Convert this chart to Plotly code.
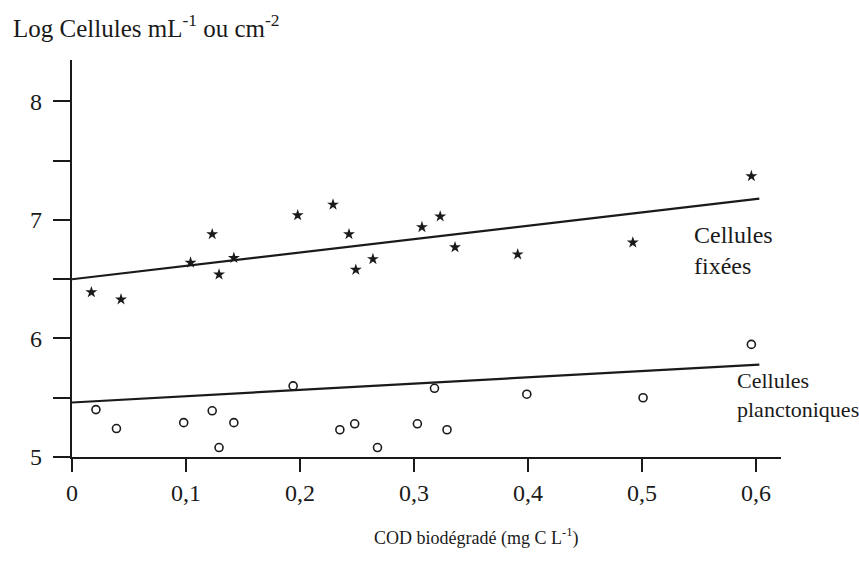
import plotly.graph_objects as go

# Data
fixees_x = [0.017, 0.043, 0.104, 0.123, 0.129, 0.142, 0.198, 0.229, 0.243, 0.249,
            0.264, 0.307, 0.323, 0.336, 0.391, 0.492, 0.596]
fixees_y = [6.39, 6.33, 6.64, 6.88, 6.54, 6.68, 7.04, 7.13, 6.88, 6.58,
            6.67, 6.94, 7.03, 6.77, 6.71, 6.81, 7.37]

plancto_x = [0.021, 0.039, 0.098, 0.123, 0.129, 0.142, 0.194, 0.235, 0.248,
             0.268, 0.303, 0.318, 0.329, 0.399, 0.501, 0.596]
plancto_y = [5.40, 5.24, 5.29, 5.39, 5.08, 5.29, 5.60, 5.23, 5.28,
             5.08, 5.28, 5.58, 5.23, 5.53, 5.50, 5.95]

fit_x = [0.0, 0.603]
fit_fixees_y = [6.50, 7.18]
fit_plancto_y = [5.46, 5.78]

xtick_vals = [0, 0.1, 0.2, 0.3, 0.4, 0.5, 0.6]
xtick_text = ["0", "0,1", "0,2", "0,3", "0,4", "0,5", "0,6"]
ytick_vals = [5, 6, 7, 8]
ytick_text = ["5", "6", "7", "8"]

FONT = "Liberation Serif"
INK = "#1a1a1a"

fig = go.Figure()

fig.add_trace(go.Scatter(x=fit_x, y=fit_fixees_y, mode="lines",
                         line=dict(color=INK, width=2.2), showlegend=False, hoverinfo="skip"))
fig.add_trace(go.Scatter(x=fit_x, y=fit_plancto_y, mode="lines",
                         line=dict(color=INK, width=2.2), showlegend=False, hoverinfo="skip"))
fig.add_trace(go.Scatter(x=fixees_x, y=fixees_y, mode="markers", name="Cellules fixées",
                         marker=dict(symbol="star", size=9, color=INK, line=dict(width=0)),
                         showlegend=False))
fig.add_trace(go.Scatter(x=plancto_x, y=plancto_y, mode="markers", name="Cellules planctoniques",
                         marker=dict(symbol="circle-open", size=8, color=INK, line=dict(width=1.6)),
                         showlegend=False))

fig.update_layout(
    width=859, height=574,
    margin=dict(l=72, r=78, t=60, b=117),
    paper_bgcolor="white", plot_bgcolor="white",
    font=dict(family=FONT, color=INK, size=24),
    title=dict(text="Log Cellules mL<sup>-1</sup> ou cm<sup>-2</sup>",
               x=13/859, xanchor="left", xref="container",
               y=1 - 28/574, yanchor="middle",
               font=dict(family=FONT, size=25, color=INK)),
    annotations=[
        dict(x=0.544, y=6.745, xref="x", yref="y", xanchor="left", yanchor="middle",
             text="Cellules<br>fixées", showarrow=False, align="left",
             font=dict(family=FONT, size=24, color=INK)),
        dict(x=0.582, y=5.52, xref="x", yref="y", xanchor="left", yanchor="middle",
             text="Cellules<br>planctoniques", showarrow=False, align="left",
             font=dict(family=FONT, size=22, color=INK)),
        dict(x=0.570, y=-0.2015, xref="paper", yref="paper", xanchor="center", yanchor="middle",
             text="COD biodégradé (mg C L<sup>-1</sup>)", showarrow=False,
             font=dict(family=FONT, size=18, color=INK)),
    ],
)

fig.update_xaxes(range=[0, 0.622], tickvals=xtick_vals, ticktext=xtick_text,
                 showline=True, linecolor=INK, linewidth=2.2, showgrid=False, zeroline=False,
                 ticks="outside", ticklen=13, tickwidth=2, tickcolor=INK,
                 ticklabelstandoff=0,
                 tickfont=dict(family=FONT, size=24, color=INK))

fig.update_yaxes(range=[5, 8.35], tickvals=ytick_vals, ticktext=ytick_text,
                 showline=True, linecolor=INK, linewidth=2.2, showgrid=False, zeroline=False,
                 ticks="outside", ticklen=17, tickwidth=2, tickcolor=INK,
                 ticklabelstandoff=6,
                 tickfont=dict(family=FONT, size=24, color=INK),
                 minor=dict(dtick=0.5, tick0=5, ticks="outside", ticklen=17, tickwidth=2,
                            tickcolor=INK, showgrid=False))

fig.write_html("out.html", config={"displayModeBar": False},
               post_script="document.body.style.margin='0px';")
